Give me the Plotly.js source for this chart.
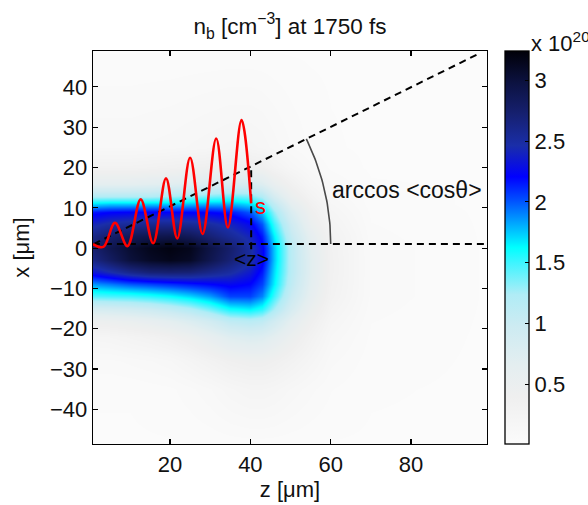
<!DOCTYPE html>
<html><head><meta charset="utf-8">
<script src="https://cdn.plot.ly/plotly-3.0.1.min.js"></script>
<style>html,body{margin:0;padding:0;background:#fff;}#chart{width:588px;height:505px;}</style>
</head><body><div id="chart"></div>
<script>
// grid positions (µm)
const zGrid = [0, 5, 10, 15, 20, 25, 30, 35, 40, 43, 46, 50, 55, 60, 70, 100];
const xGrid = [-50, -35, -28, -22, -18, -15, -12, -9, -6, -3, 0, 3, 6, 9, 11, 13, 16, 20, 25, 50];
// density n_b in units of 1e20 cm^-3, rows follow xGrid, columns follow zGrid
const density = [
  [0.02,0.02,0.02,0.02,0.02,0.02,0.02,0.02,0.02,0.02,0.02,0.02,0.02,0.02,0.02,0.02],
  [0.03,0.03,0.03,0.04,0.05,0.08,0.12,0.18,0.22,0.22,0.2,0.15,0.1,0.06,0.03,0.02],
  [0.08,0.08,0.1,0.12,0.15,0.22,0.3,0.38,0.42,0.42,0.38,0.3,0.2,0.1,0.04,0.02],
  [0.2,0.22,0.26,0.3,0.36,0.45,0.58,0.72,0.78,0.75,0.65,0.48,0.3,0.15,0.05,0.02],
  [0.45,0.48,0.52,0.58,0.66,0.78,0.92,1.1,1.15,1.1,0.92,0.65,0.4,0.2,0.06,0.02],
  [0.85,0.88,0.92,0.98,1.08,1.2,1.38,1.6,1.65,1.55,1.25,0.85,0.5,0.25,0.07,0.02],
  [1.45,1.48,1.5,1.55,1.62,1.72,1.85,2.05,2.05,1.9,1.5,1.0,0.6,0.3,0.08,0.02],
  [1.85,1.92,2.0,2.05,2.1,2.15,2.2,2.25,2.2,2.05,1.65,1.1,0.65,0.32,0.08,0.02],
  [2.3,2.45,2.6,2.7,2.72,2.7,2.6,2.5,2.35,2.15,1.7,1.15,0.68,0.33,0.08,0.02],
  [2.6,2.8,3.0,3.1,3.15,3.1,2.9,2.7,2.5,2.25,1.75,1.15,0.68,0.33,0.08,0.02],
  [2.7,2.9,3.05,3.15,3.2,3.15,2.95,2.75,2.5,2.25,1.75,1.15,0.65,0.32,0.08,0.02],
  [2.6,2.75,2.85,2.9,2.92,2.85,2.7,2.55,2.4,2.15,1.65,1.05,0.6,0.3,0.07,0.02],
  [2.4,2.5,2.55,2.58,2.58,2.55,2.5,2.4,2.25,2.0,1.5,0.95,0.5,0.25,0.06,0.02],
  [2.15,2.2,2.22,2.22,2.22,2.2,2.2,2.15,2.0,1.75,1.3,0.8,0.42,0.2,0.05,0.02],
  [1.7,1.75,1.75,1.75,1.75,1.78,1.8,1.8,1.7,1.5,1.1,0.65,0.35,0.16,0.04,0.02],
  [1.2,1.2,1.2,1.2,1.25,1.3,1.35,1.4,1.35,1.2,0.85,0.5,0.27,0.12,0.04,0.02],
  [0.65,0.65,0.65,0.68,0.7,0.75,0.8,0.85,0.85,0.75,0.55,0.35,0.18,0.09,0.03,0.02],
  [0.3,0.3,0.3,0.32,0.34,0.37,0.4,0.42,0.42,0.38,0.28,0.18,0.1,0.05,0.02,0.02],
  [0.12,0.12,0.12,0.13,0.14,0.16,0.18,0.2,0.2,0.18,0.14,0.09,0.05,0.03,0.02,0.02],
  [0.02,0.02,0.02,0.02,0.02,0.02,0.02,0.02,0.02,0.02,0.02,0.02,0.02,0.02,0.02,0.02]
];
// red trajectory (extrema)
const trajZ = [0.8, 3.4, 6.3, 9.4, 12.7, 15.8, 19.0, 21.8, 25.0, 28.1, 31.5, 34.4, 37.8, 40.2];
const trajX = [1.0, 0.3, 6.3, 0.5, 12.1, 1.2, 17.3, 2.4, 22.4, 3.5, 27.2, 5.1, 31.8, 11.1];
// guide lines
const axisLineZ = [0.8, 98.9], axisLineX = [1.0, 1.0];
const diagZ = [1.0, 97.0], diagX = [1.0, 48.3];
const vertZ = [40.2, 40.2], vertX = [-0.3, 20.3];
const arcCenter = [1.0, 1.0], arcRadius = 59, arcAngleDeg = Math.atan2(diagX[1]-diagX[0], diagZ[1]-diagZ[0]) * 180 / Math.PI;
const cbTicks = [0.5, 1, 1.5, 2, 2.5, 3];
const xTicks = [20, 40, 60, 80];
const yTicks = [-40, -30, -20, -10, 0, 10, 20, 30, 40];

const arcZ = [], arcX = [];
for (let i = 0; i <= 40; i++) {
  const a = arcAngleDeg * Math.PI / 180 * i / 40;
  arcZ.push(arcCenter[0] + arcRadius * Math.cos(a));
  arcX.push(arcCenter[1] + arcRadius * Math.sin(a));
}

const FONT = '"Liberation Sans", Arial, Helvetica, sans-serif';
const dashLine = {color: '#000', width: 2, dash: '7px,5px'};

const traces = [
  {
    type: 'heatmap', x: zGrid, y: xGrid, z: density, zsmooth: 'best',
    zmin: 0.01, zmax: 3.24,
    colorscale: [
      [0.0, '#fbfbfb'], [0.12, '#efefef'], [0.2, '#e4eef0'], [0.3, '#cdebf2'], [0.38, '#b0ecf6'],
      [0.46, '#40f4ff'], [0.5, '#00ffff'], [0.555, '#00b0ff'], [0.62, '#0050ff'],
      [0.68, '#0000ff'], [0.76, '#1a2ea8'], [0.84, '#162070'], [0.92, '#0c1240'], [1.0, '#000008']
    ],
    colorbar: {
      x: 412/394, xanchor: 'left', xpad: 0, y: 0.5, yanchor: 'middle', len: 1, lenmode: 'fraction',
      ypad: 0, thickness: 24, thicknessmode: 'pixels',
      outlinewidth: 1.3, outlinecolor: '#000',
      tickvals: cbTicks, ticktext: cbTicks.map(String), ticks: 'inside', ticklen: 4, tickcolor: '#000',
      tickfont: {family: FONT, size: 22, color: '#111'}
    },
    hoverinfo: 'skip'
  },
  {type: 'scatter', mode: 'lines', x: axisLineZ, y: axisLineX, line: dashLine, hoverinfo: 'skip'},
  {type: 'scatter', mode: 'lines', x: diagZ, y: diagX, line: dashLine, hoverinfo: 'skip'},
  {type: 'scatter', mode: 'lines', x: vertZ, y: vertX, line: dashLine, hoverinfo: 'skip'},
  {type: 'scatter', mode: 'lines', x: arcZ, y: arcX, line: {color: '#4a4a4a', width: 1.6}, hoverinfo: 'skip'},
  {type: 'scatter', mode: 'lines', x: trajZ, y: trajX, line: {color: '#ff0000', width: 2.6, shape: 'spline', smoothing: 1}, hoverinfo: 'skip'}
];

const layout = {
  width: 588, height: 505,
  margin: {l: 93, r: 101, t: 51, b: 61},
  paper_bgcolor: '#fff', plot_bgcolor: '#fff',
  showlegend: false,
  font: {family: FONT, size: 22, color: '#111'},
  title: {
    text: 'n<sub>b</sub> [cm<sup>−3</sup>] at 1750 fs',
    font: {family: FONT, size: 22.5, color: '#111'},
    x: 0.5, xref: 'paper', xanchor: 'center', y: 1 - 26/505, yref: 'container', yanchor: 'middle'
  },
  xaxis: {
    range: [0.83, 98.9], tickvals: xTicks, ticktext: xTicks.map(String),
    ticks: 'inside', ticklen: 5, tickwidth: 1.2, tickcolor: '#000',
    showline: true, linecolor: '#000', linewidth: 1.3, mirror: 'ticks',
    showgrid: false, zeroline: false,
    tickfont: {family: FONT, size: 22, color: '#111'},
    title: {text: 'z [μm]', font: {family: FONT, size: 22, color: '#111'}, standoff: 4}
  },
  yaxis: {
    range: [-48.6, 48.9], tickvals: yTicks, ticktext: yTicks.map(v => v < 0 ? '−' + Math.abs(v) : String(v)),
    ticks: 'inside', ticklen: 5, tickwidth: 1.2, tickcolor: '#000',
    showline: true, linecolor: '#000', linewidth: 1.3, mirror: 'ticks',
    showgrid: false, zeroline: false,
    tickfont: {family: FONT, size: 22, color: '#111'},
    title: {text: 'x [μm]', font: {family: FONT, size: 22, color: '#111'}, standoff: 14}
  },
  annotations: [
    {x: 42.4, y: 10.4, xref: 'x', yref: 'y', text: 's', showarrow: false,
     font: {family: FONT, size: 22, color: '#ff0000'}},
    {x: 40.3, y: -2.6, xref: 'x', yref: 'y', text: '&lt;z&gt;', showarrow: false,
     font: {family: FONT, size: 21, color: '#000'}},
    {x: 79.1, y: 14.4, xref: 'x', yref: 'y', text: 'arccos &lt;cosθ&gt;', showarrow: false,
     font: {family: FONT, size: 23, color: '#111'}},
    {x: (529 - 93) / 394, y: (444 - 42) / 393, xref: 'paper', yref: 'paper', text: 'x 10<sup>20</sup>', showarrow: false,
     xanchor: 'left', yanchor: 'middle', font: {family: FONT, size: 22, color: '#111'}}
  ]
};

Plotly.newPlot('chart', traces, layout, {displayModeBar: false, staticPlot: true});
</script>
</body></html>
